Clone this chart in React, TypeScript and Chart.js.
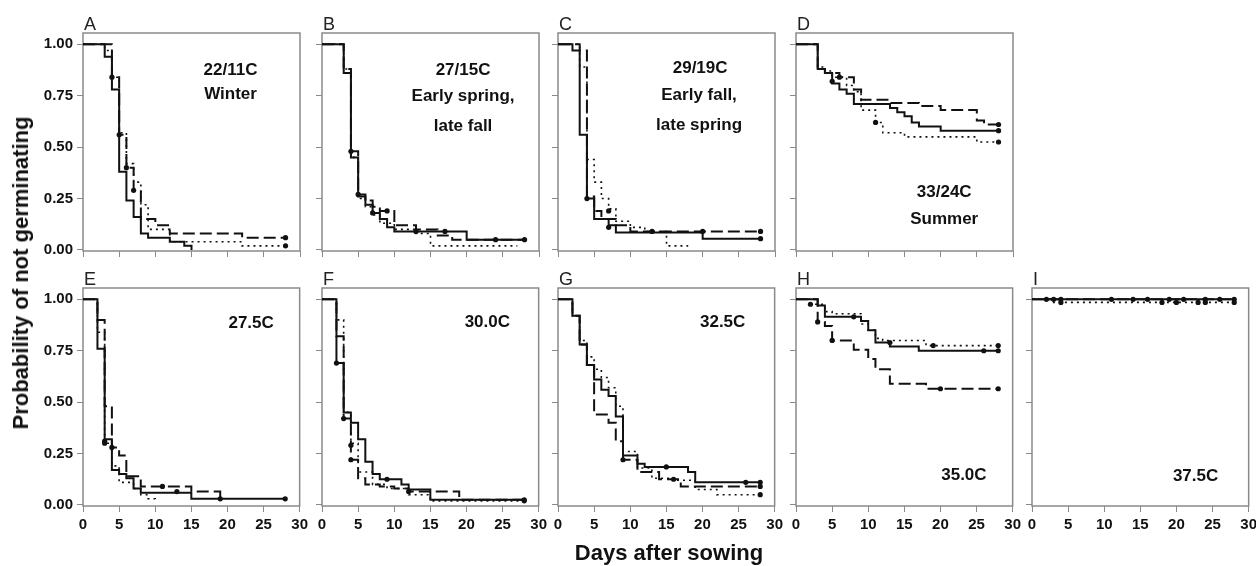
import React, { useEffect, useRef } from "react";
import { Chart, registerables } from "chart.js";

Chart.register(...registerables);

type Pt = [number, number];

// ---------- data: [day, probability of not germinating] step points ----------
// Panel A  22/11C Winter
const A_SOLID: Pt[] = [[0, 1], [3, 0.94], [4, 0.78], [5, 0.38], [6, 0.24], [7, 0.16], [8, 0.08], [9, 0.06], [12, 0.04], [14, 0.02], [15, 0]];
const A_DASH: Pt[] = [[0, 1], [4, 0.84], [5, 0.56], [6, 0.4], [7, 0.29], [8, 0.15], [10, 0.12], [12, 0.08], [22, 0.06], [28, 0.06]];
const A_DOT: Pt[] = [[0, 1], [3, 0.97], [4, 0.84], [5, 0.57], [6, 0.42], [7, 0.33], [8, 0.22], [9, 0.1], [12, 0.04], [22, 0.02], [28, 0.02]];
const A_CENSOR: Pt[] = [[4, 0.84], [5, 0.56], [6, 0.4], [7, 0.29], [28, 0.06], [28, 0.02]];

// Panel B  27/15C
const B_SOLID: Pt[] = [[0, 1], [3, 0.86], [4, 0.45], [5, 0.26], [6, 0.22], [7, 0.18], [8, 0.15], [9, 0.11], [10, 0.09], [20, 0.05], [28, 0.05]];
const B_DASH: Pt[] = [[0, 1], [3, 0.88], [4, 0.48], [5, 0.27], [6, 0.24], [7, 0.21], [8, 0.19], [10, 0.12], [13, 0.1], [16, 0.07], [18, 0.05], [28, 0.05]];
const B_DOT: Pt[] = [[0, 1], [3, 0.88], [4, 0.45], [5, 0.25], [6, 0.21], [7, 0.17], [8, 0.13], [10, 0.1], [13, 0.08], [15, 0.02], [27, 0.02]];
const B_CENSOR: Pt[] = [[4, 0.48], [5, 0.27], [7, 0.18], [9, 0.19], [13, 0.09], [17, 0.09], [24, 0.05], [28, 0.05]];

// Panel C  29/19C
const C_SOLID: Pt[] = [[0, 1], [2, 0.97], [3, 0.56], [4, 0.25], [5, 0.15], [7, 0.12], [8, 0.085], [20, 0.055], [28, 0.055]];
const C_DASH: Pt[] = [[0, 1], [3, 0.97], [4, 0.26], [5, 0.19], [6, 0.15], [8, 0.12], [10, 0.09], [28, 0.09]];
const C_DOT: Pt[] = [[0, 1], [3, 0.89], [4, 0.44], [5, 0.33], [6, 0.25], [7, 0.2], [8, 0.14], [10, 0.11], [12, 0.09], [15, 0.02], [18, 0.02]];
const C_CENSOR: Pt[] = [[4, 0.25], [7, 0.19], [7, 0.11], [13, 0.09], [20, 0.09], [28, 0.09], [28, 0.055]];

// Panel D  33/24C Summer
const D_SOLID: Pt[] = [[0, 1], [3, 0.88], [4, 0.86], [5, 0.81], [6, 0.78], [7, 0.76], [8, 0.71], [13, 0.69], [14, 0.67], [15, 0.65], [16, 0.62], [17, 0.6], [20, 0.58], [28, 0.58]];
const D_DASH: Pt[] = [[0, 1], [3, 0.88], [4, 0.86], [6, 0.84], [8, 0.78], [9, 0.73], [13, 0.715], [17, 0.7], [20, 0.68], [25, 0.63], [26, 0.61], [28, 0.61]];
const D_DOT: Pt[] = [[0, 1], [3, 0.89], [4, 0.87], [5, 0.84], [7, 0.8], [8, 0.77], [9, 0.68], [11, 0.62], [12, 0.57], [15, 0.55], [25, 0.525], [28, 0.525]];
const D_CENSOR: Pt[] = [[5, 0.82], [6, 0.84], [11, 0.62], [28, 0.61], [28, 0.58], [28, 0.525]];

// Panel E  27.5C
const E_SOLID: Pt[] = [[0, 1], [2, 0.76], [3, 0.32], [4, 0.17], [5, 0.15], [6, 0.13], [7, 0.08], [8, 0.06], [15, 0.03], [28, 0.03]];
const E_DASH: Pt[] = [[0, 1], [2, 0.9], [3, 0.48], [4, 0.28], [5, 0.24], [6, 0.14], [8, 0.09], [15, 0.065], [19, 0.03]];
const E_DOT: Pt[] = [[0, 1], [2, 0.84], [3, 0.3], [4, 0.19], [5, 0.11], [7, 0.08], [8, 0.05], [9, 0.03], [10, 0.02]];
const E_CENSOR: Pt[] = [[3, 0.31], [3, 0.3], [4, 0.28], [11, 0.09], [13, 0.065], [19, 0.03], [28, 0.03]];

// Panel F  30.0C
const F_SOLID: Pt[] = [[0, 1], [2, 0.69], [3, 0.45], [4, 0.4], [5, 0.32], [6, 0.21], [7, 0.15], [8, 0.125], [11, 0.1], [12, 0.075], [15, 0.025], [28, 0.025]];
const F_DASH: Pt[] = [[0, 1], [2, 0.82], [3, 0.42], [4, 0.22], [5, 0.13], [6, 0.1], [8, 0.09], [10, 0.08], [12, 0.065], [19, 0.025], [28, 0.025]];
const F_DOT: Pt[] = [[0, 1], [2, 0.9], [3, 0.45], [4, 0.3], [5, 0.16], [7, 0.1], [9, 0.08], [12, 0.05], [15, 0.02], [28, 0.02]];
const F_CENSOR: Pt[] = [[2, 0.69], [3, 0.42], [4, 0.29], [4, 0.22], [9, 0.125], [12, 0.065], [28, 0.025], [28, 0.02]];

// Panel G  32.5C
const G_SOLID: Pt[] = [[0, 1], [2, 0.92], [3, 0.78], [4, 0.68], [5, 0.61], [6, 0.56], [7, 0.53], [8, 0.43], [9, 0.24], [11, 0.2], [12, 0.185], [18, 0.16], [19, 0.11], [28, 0.11]];
const G_DASH: Pt[] = [[0, 1], [2, 0.92], [3, 0.78], [4, 0.68], [5, 0.44], [7, 0.4], [8, 0.31], [9, 0.22], [11, 0.16], [14, 0.125], [17, 0.09], [28, 0.09]];
const G_DOT: Pt[] = [[0, 1], [2, 0.92], [3, 0.8], [4, 0.72], [5, 0.66], [6, 0.62], [7, 0.57], [8, 0.48], [9, 0.26], [11, 0.18], [13, 0.13], [16, 0.12], [19, 0.075], [22, 0.05], [28, 0.05]];
const G_CENSOR: Pt[] = [[9, 0.22], [15, 0.185], [16, 0.125], [26, 0.11], [28, 0.11], [28, 0.09], [28, 0.05]];

// Panel H  35.0C
const H_SOLID: Pt[] = [[0, 1], [3, 0.97], [4, 0.915], [9, 0.895], [10, 0.85], [11, 0.79], [13, 0.77], [17, 0.75], [28, 0.75]];
const H_DASH: Pt[] = [[0, 1], [3, 0.89], [4, 0.87], [5, 0.8], [8, 0.755], [10, 0.71], [11, 0.66], [13, 0.59], [18, 0.565], [28, 0.565]];
const H_DOT: Pt[] = [[0, 1], [2, 0.976], [4, 0.94], [5, 0.93], [9, 0.88], [10, 0.85], [11, 0.81], [12, 0.8], [18, 0.775], [28, 0.775]];
const H_CENSOR: Pt[] = [[2, 0.976], [3, 0.89], [5, 0.8], [8, 0.915], [13, 0.79], [19, 0.775], [20, 0.565], [26, 0.75], [28, 0.775], [28, 0.75], [28, 0.565]];

// Panel I  37.5C
const I_SOLID: Pt[] = [[0, 1], [28, 1]];
const I_DASH: Pt[] = [[0, 1], [28, 1]];
const I_DOT: Pt[] = [[0, 1], [3, 0.985], [28, 0.985]];
const I_CENSOR: Pt[] = [[2, 1], [3, 1], [4, 1], [11, 1], [14, 1], [16, 1], [19, 1], [21, 1], [24, 1], [26, 1], [28, 1], [4, 0.985], [18, 0.985], [20, 0.985], [23, 0.985], [24, 0.985], [28, 0.985]];

// ---------- axes ----------
const X_MIN = 0;
const X_MAX = 30;
const X_STEP = 5;
const Y_TICKS = [0, 0.25, 0.5, 0.75, 1.0];
const Y_MIN = -0.005;
const Y_MAX = 1.055;

const Y_TITLE = "Probability of not germinating";
const X_TITLE = "Days after sowing";

// ---------- layout ----------
const COL_LEFT = [83, 322, 558, 796, 1032];
const ROW_TOP = [33, 288];
const BOX_W = 217;
const BOX_H = 218;
const AXIS_W = 70;
const AXIS_H = 34;
const PAD_TOP = 24;
const PAD_RIGHT = 12;
const CANVAS_W = AXIS_W + BOX_W + PAD_RIGHT;
const CANVAS_H = PAD_TOP + BOX_H + AXIS_H;

const FONT = '"Liberation Sans", Arial, Helvetica, sans-serif';
const INK = "#111111";
const GRAY = "#8a8a8a";

type Note = { text: string; fx: number; fy: number };
type PanelDef = {
  letter: string;
  col: number;
  row: number;
  solid: Pt[];
  dash: Pt[];
  dot: Pt[];
  censor: Pt[];
  notes: Note[];
  yLabels: boolean;
  xLabels: boolean;
};

const PANELS: PanelDef[] = [
  { letter: "A", col: 0, row: 0, solid: A_SOLID, dash: A_DASH, dot: A_DOT, censor: A_CENSOR, yLabels: true, xLabels: false,
    notes: [{ text: "22/11C", fx: 0.68, fy: 0.17 }, { text: "Winter", fx: 0.68, fy: 0.28 }] },
  { letter: "B", col: 1, row: 0, solid: B_SOLID, dash: B_DASH, dot: B_DOT, censor: B_CENSOR, yLabels: false, xLabels: false,
    notes: [{ text: "27/15C", fx: 0.65, fy: 0.17 }, { text: "Early spring,", fx: 0.65, fy: 0.29 }, { text: "late fall", fx: 0.65, fy: 0.43 }] },
  { letter: "C", col: 2, row: 0, solid: C_SOLID, dash: C_DASH, dot: C_DOT, censor: C_CENSOR, yLabels: false, xLabels: false,
    notes: [{ text: "29/19C", fx: 0.655, fy: 0.16 }, { text: "Early fall,", fx: 0.65, fy: 0.285 }, { text: "late spring", fx: 0.65, fy: 0.425 }] },
  { letter: "D", col: 3, row: 0, solid: D_SOLID, dash: D_DASH, dot: D_DOT, censor: D_CENSOR, yLabels: false, xLabels: false,
    notes: [{ text: "33/24C", fx: 0.683, fy: 0.73 }, { text: "Summer", fx: 0.683, fy: 0.855 }] },
  { letter: "E", col: 0, row: 1, solid: E_SOLID, dash: E_DASH, dot: E_DOT, censor: E_CENSOR, yLabels: true, xLabels: true,
    notes: [{ text: "27.5C", fx: 0.776, fy: 0.162 }] },
  { letter: "F", col: 1, row: 1, solid: F_SOLID, dash: F_DASH, dot: F_DOT, censor: F_CENSOR, yLabels: false, xLabels: true,
    notes: [{ text: "30.0C", fx: 0.763, fy: 0.158 }] },
  { letter: "G", col: 2, row: 1, solid: G_SOLID, dash: G_DASH, dot: G_DOT, censor: G_CENSOR, yLabels: false, xLabels: true,
    notes: [{ text: "32.5C", fx: 0.76, fy: 0.158 }] },
  { letter: "H", col: 3, row: 1, solid: H_SOLID, dash: H_DASH, dot: H_DOT, censor: H_CENSOR, yLabels: false, xLabels: true,
    notes: [{ text: "35.0C", fx: 0.775, fy: 0.858 }] },
  { letter: "I", col: 4, row: 1, solid: I_SOLID, dash: I_DASH, dot: I_DOT, censor: I_CENSOR, yLabels: false, xLabels: true,
    notes: [{ text: "37.5C", fx: 0.755, fy: 0.865 }] },
];

const toXY = (pts: Pt[]) => pts.map(([x, y]) => ({ x, y }));

function Panel({ p }: { p: PanelDef }) {
  const ref = useRef<HTMLCanvasElement | null>(null);

  useEffect(() => {
    if (!ref.current) return;
    const deco = {
      id: "deco",
      beforeDatasetsDraw(chart: any) {
        const { ctx, chartArea } = chart;
        const { left, top, right, bottom } = chartArea;
        ctx.save();
        ctx.strokeStyle = GRAY;
        ctx.lineWidth = 1.5;
        ctx.strokeRect(left, top, right - left, bottom - top);
        ctx.restore();
      },
      afterDraw(chart: any) {
        const { ctx, chartArea } = chart;
        const { left, top, right, bottom } = chartArea;
        ctx.save();
        ctx.fillStyle = "#222";
        ctx.font = `18px ${FONT}`;
        ctx.textAlign = "left";
        ctx.textBaseline = "alphabetic";
        ctx.fillText(p.letter, left + 1, top - 3);
        ctx.font = `bold 17px ${FONT}`;
        ctx.textAlign = "center";
        ctx.textBaseline = "middle";
        ctx.fillStyle = INK;
        for (const n of p.notes) {
          ctx.fillText(n.text, left + n.fx * (right - left), top + n.fy * (bottom - top));
        }
        ctx.restore();
      },
    };

    const lineBase = {
      type: "line" as const,
      stepped: true,
      fill: false,
      pointRadius: 0,
      pointHoverRadius: 0,
      borderColor: INK,
      borderCapStyle: "butt" as const,
      borderJoinStyle: "miter" as const,
    };

    const chart = new Chart(ref.current, {
      type: "line",
      data: {
        datasets: [
          { ...lineBase, label: "solid", data: toXY(p.solid), borderWidth: 2 },
          { ...lineBase, label: "dashed", data: toXY(p.dash), borderWidth: 2, borderDash: [12, 5] },
          { ...lineBase, label: "dotted", data: toXY(p.dot), borderWidth: 1.6, borderDash: [2, 4] },
          {
            type: "scatter",
            label: "censored",
            data: toXY(p.censor),
            showLine: false,
            pointRadius: 2.6,
            pointHoverRadius: 2.6,
            pointBackgroundColor: INK,
            pointBorderWidth: 0,
          } as any,
        ],
      },
      options: {
        responsive: false,
        animation: false,
        devicePixelRatio: 1,
        events: [],
        layout: { padding: { left: 0, top: PAD_TOP, right: PAD_RIGHT, bottom: 0 } },
        plugins: { legend: { display: false }, tooltip: { enabled: false }, title: { display: false } },
        scales: {
          x: {
            type: "linear",
            min: X_MIN,
            max: X_MAX,
            ticks: {
              stepSize: X_STEP,
              display: p.xLabels,
              autoSkip: false,
              maxRotation: 0,
              padding: 4,
              color: INK,
              font: { family: FONT, size: 15, weight: "bold" },
            },
            grid: { drawOnChartArea: false, drawTicks: true, tickLength: 6, color: GRAY, lineWidth: 1 },
            border: { display: false },
            afterFit: (s: any) => {
              s.height = AXIS_H;
            },
          },
          y: {
            type: "linear",
            min: Y_MIN,
            max: Y_MAX,
            afterBuildTicks: (s: any) => {
              s.ticks = Y_TICKS.map((v) => ({ value: v }));
            },
            ticks: {
              display: p.yLabels,
              padding: 4,
              color: INK,
              font: { family: FONT, size: 15, weight: "bold" },
              callback: (v: any) => Number(v).toFixed(2),
            },
            grid: { drawOnChartArea: false, drawTicks: true, tickLength: 6, color: GRAY, lineWidth: 1 },
            border: { display: false },
            afterFit: (s: any) => {
              s.width = AXIS_W;
            },
          },
        },
      } as any,
      plugins: [deco],
    });
    return () => chart.destroy();
  }, [p]);

  const left = COL_LEFT[p.col] - AXIS_W;
  const top = ROW_TOP[p.row] - PAD_TOP;
  return (
    <canvas
      ref={ref}
      width={CANVAS_W}
      height={CANVAS_H}
      style={{ position: "absolute", left, top, width: CANVAS_W, height: CANVAS_H }}
    />
  );
}

export default function App() {
  return (
    <div
      style={{
        position: "absolute",
        left: 0,
        top: 0,
        width: 1256,
        height: 566,
        background: "#ffffff",
        overflow: "hidden",
        fontFamily: FONT,
      }}
    >
      {PANELS.map((p) => (
        <Panel key={p.letter} p={p} />
      ))}
      <div
        style={{
          position: "absolute",
          left: 21,
          top: 273,
          transform: "translate(-50%, -50%) rotate(-90deg)",
          whiteSpace: "nowrap",
          fontWeight: "bold",
          fontSize: 22,
          color: INK,
        }}
      >
        {Y_TITLE}
      </div>
      <div
        style={{
          position: "absolute",
          left: 669,
          top: 553,
          transform: "translate(-50%, -50%)",
          whiteSpace: "nowrap",
          fontWeight: "bold",
          fontSize: 22,
          color: INK,
        }}
      >
        {X_TITLE}
      </div>
    </div>
  );
}
